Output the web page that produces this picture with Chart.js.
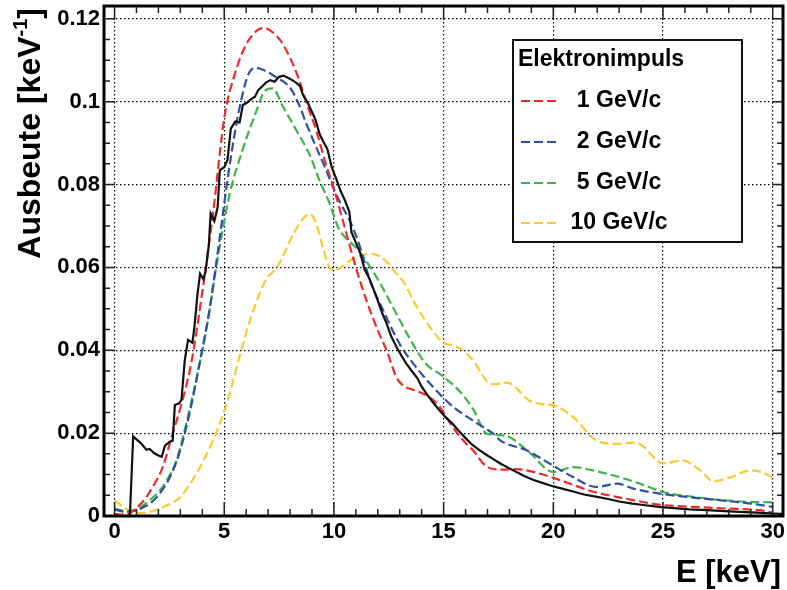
<!DOCTYPE html>
<html>
<head>
<meta charset="utf-8">
<script src="https://cdn.jsdelivr.net/npm/chart.js@4.4.0/dist/chart.umd.min.js"></script>
<style>
  html, body { margin: 0; padding: 0; background: #fff; }
</style>
</head>
<body>
<canvas id="c" width="787" height="590"></canvas>
<script>
// measured data (black, several overlapping runs in the original)
const eData = [0, 0.7, 0.85, 1.0, 1.2, 1.45, 1.6, 1.8, 2.0, 2.15, 2.3, 2.5, 2.65, 2.75, 2.95, 3.05, 3.2, 3.35, 3.55, 3.65, 3.78, 3.9, 4.05, 4.15, 4.3, 4.38, 4.55, 4.7, 4.8, 5.0, 5.15, 5.3, 5.5, 5.7, 5.85, 6.05, 6.2, 6.4, 6.55, 6.75, 6.9, 7.1, 7.3, 7.5, 7.7, 7.9, 8.1, 8.3, 8.45, 8.6, 8.8, 9.0, 9.15, 9.35, 9.5, 9.7, 9.9, 10.1, 10.3, 10.5, 10.7, 10.8, 11.0, 11.2, 11.4, 11.6, 11.75, 12.0, 12.2, 12.4, 12.6, 12.85, 13.1, 13.3, 13.55, 13.8, 14.0, 14.25, 14.5, 14.8, 15.1, 15.4, 15.7, 16.0, 16.3, 16.6, 17.0, 17.3, 17.6, 18.0, 18.3, 18.7, 19.1, 19.5, 19.9, 20.4, 20.9, 21.4, 22.0, 22.5, 23.0, 23.6, 24.2, 24.8, 25.5, 26.2, 27.0, 27.8, 28.5, 29.3, 30.0, 30.47];
const yData = [0, 0, 0.0192, 0.0185, 0.0176, 0.016, 0.0162, 0.0152, 0.0146, 0.0143, 0.017, 0.0179, 0.0182, 0.0268, 0.0272, 0.028, 0.0375, 0.0425, 0.0418, 0.046, 0.0535, 0.0585, 0.0572, 0.059, 0.0655, 0.073, 0.0712, 0.0745, 0.0835, 0.0842, 0.086, 0.0935, 0.0952, 0.095, 0.0992, 0.0998, 0.1005, 0.1012, 0.1028, 0.1038, 0.1046, 0.1052, 0.1048, 0.106, 0.1063, 0.1058, 0.1052, 0.1045, 0.1038, 0.1015, 0.0998, 0.0975, 0.0958, 0.0922, 0.0905, 0.0886, 0.0842, 0.0815, 0.0785, 0.0762, 0.0735, 0.0685, 0.066, 0.0635, 0.0595, 0.0575, 0.0555, 0.052, 0.049, 0.0465, 0.0435, 0.0408, 0.0385, 0.0368, 0.035, 0.0333, 0.0312, 0.0293, 0.0275, 0.0256, 0.0238, 0.0223, 0.0205, 0.0188, 0.0172, 0.016, 0.0146, 0.0136, 0.0126, 0.0115, 0.0107, 0.0096, 0.0087, 0.008, 0.0073, 0.0066, 0.0059, 0.0052, 0.0046, 0.0041, 0.0035, 0.003, 0.0026, 0.0022, 0.0019, 0.0016, 0.0014, 0.0012, 0.001, 0.0008, 0.0006, 0.0005];

// simulations
const e1 = [0, 0.5, 0.9, 1.4, 1.9, 2.2, 2.65, 3.0, 3.5, 4.0, 4.5, 5.0, 5.5, 6.0, 6.5, 6.8, 7.2, 7.6, 8.0, 8.4, 8.8, 9.2, 9.6, 10.0, 10.5, 11.0, 11.5, 12.0, 12.4, 12.85, 13.15, 13.7, 14.3, 14.8, 15.4, 16.0, 16.4, 16.8, 17.2, 17.8, 18.3, 19.4, 20.5, 21.8, 23.3, 24.9, 26.4, 27.9, 29.4, 30];
const y1 = [0.0005, 0.0003, 0.0015, 0.0042, 0.0085, 0.0118, 0.02, 0.026, 0.037, 0.054, 0.0735, 0.096, 0.107, 0.1138, 0.1172, 0.1178, 0.1168, 0.1145, 0.1106, 0.1055, 0.099, 0.093, 0.0855, 0.079, 0.0695, 0.06, 0.0518, 0.0448, 0.04, 0.0335, 0.0315, 0.0303, 0.0289, 0.0265, 0.0216, 0.0176, 0.0155, 0.0127, 0.0114, 0.0112, 0.0113, 0.0102, 0.0083, 0.0059, 0.0042, 0.0027, 0.0022, 0.0018, 0.0014, 0.0008];

const e2 = [0, 0.5, 0.9, 1.2, 1.6, 2.0, 2.6, 3.0, 3.45, 3.9, 4.35, 4.65, 4.9, 5.1, 5.5, 5.8, 6.1, 6.4, 6.85, 7.4, 8.0, 8.4, 8.75, 9.2, 9.6, 10.0, 10.4, 10.75, 11.2, 11.65, 12.25, 13.0, 13.75, 14.7, 15.45, 16.35, 17.3, 17.6, 18.8, 19.85, 20.9, 21.95, 22.9, 23.65, 24.85, 26.1, 27.6, 29.0, 30];
const y2 = [0.0016, 0.001, 0.0012, 0.0018, 0.003, 0.005, 0.0102, 0.016, 0.0255, 0.0375, 0.0504, 0.0616, 0.0713, 0.0793, 0.093, 0.101, 0.1066, 0.1082, 0.1075, 0.1058, 0.1034, 0.0994, 0.0946, 0.0889, 0.0841, 0.0788, 0.0745, 0.071, 0.0648, 0.0568, 0.0496, 0.0415, 0.0359, 0.0301, 0.0263, 0.023, 0.0197, 0.0182, 0.0158, 0.0126, 0.0094, 0.007, 0.0078, 0.0066, 0.0054, 0.0046, 0.0038, 0.003, 0.0022];

const e5 = [0, 0.5, 0.9, 1.2, 1.6, 2.07, 2.4, 2.83, 3.3, 3.75, 4.2, 4.65, 5.25, 5.87, 6.47, 6.85, 7.2, 7.7, 8.3, 8.9, 9.35, 9.8, 10.2, 10.6, 11.0, 11.95, 12.85, 13.6, 14.2, 14.9, 15.8, 16.4, 16.95, 17.8, 18.9, 20.0, 20.9, 21.8, 23.0, 23.95, 25.0, 26.4, 27.7, 29.0, 30];
const y5 = [0.0018, 0.0012, 0.0014, 0.0022, 0.0038, 0.0062, 0.0088, 0.0135, 0.023, 0.0335, 0.0455, 0.0605, 0.0777, 0.0889, 0.0978, 0.1026, 0.1032, 0.0986, 0.093, 0.0871, 0.0809, 0.0755, 0.0696, 0.0668, 0.0648, 0.0576, 0.0488, 0.0415, 0.0367, 0.034, 0.0297, 0.0253, 0.0199, 0.0194, 0.0154, 0.0106, 0.0118, 0.011, 0.0094, 0.0078, 0.0058, 0.0046, 0.0038, 0.0034, 0.0033];

const e10 = [0, 0.5, 1.0, 1.6, 2.4, 3.0, 3.45, 3.9, 4.35, 4.8, 5.25, 5.7, 6.3, 6.9, 7.4, 8.15, 8.6, 8.9, 9.2, 9.5, 9.75, 10.0, 10.4, 10.9, 11.7, 12.4, 12.8, 13.2, 13.7, 14.5, 15.0, 15.4, 15.8, 16.35, 16.95, 17.3, 17.9, 18.9, 19.5, 20.0, 20.9, 21.95, 22.9, 23.6, 24.0, 25.0, 25.9, 26.7, 27.3, 28.0, 29.0, 29.6, 30.0];
const y10 = [0.0038, 0.0018, 0.0007, 0.001, 0.0026, 0.0046, 0.0078, 0.0118, 0.0166, 0.0223, 0.0295, 0.0385, 0.0492, 0.057, 0.06, 0.068, 0.0718, 0.0729, 0.0705, 0.0648, 0.0605, 0.0592, 0.0603, 0.0622, 0.0633, 0.0614, 0.0588, 0.0563, 0.0512, 0.0447, 0.0418, 0.0412, 0.0403, 0.0375, 0.0327, 0.0318, 0.0322, 0.0279, 0.027, 0.0267, 0.0239, 0.0183, 0.0174, 0.0177, 0.0172, 0.0127, 0.0134, 0.011, 0.0084, 0.0092, 0.011, 0.0104, 0.0092];

const seriesLabels = ['1 GeV/c', '2 GeV/c', '5 GeV/c', '10 GeV/c'];
const seriesColors = ['#ee2b2b', '#2f4fa6', '#3bb54a', '#fdc92c'];

const xTicks = [0, 5, 10, 15, 20, 25, 30];
const yTicks = [0, 0.02, 0.04, 0.06, 0.08, 0.1, 0.12];
const yTickLabels = ['0', '0.02', '0.04', '0.06', '0.08', '0.1', '0.12'];

const legendTitle = 'Elektronimpuls';
const xTitle = 'E [keV]';
const yTitle = 'Ausbeute [keV';

function pts(xs, ys) {
  return xs.map((x, i) => ({ x: x, y: ys[i] }));
}

function simSet(i, xs, ys) {
  return {
    label: seriesLabels[i],
    data: pts(xs, ys),
    borderColor: seriesColors[i],
    borderWidth: 2.2,
    borderDash: [9, 4],
    pointRadius: 0,
    tension: 0.4,
    cubicInterpolationMode: 'monotone'
  };
}

const FONT = '"Liberation Sans", Arial, sans-serif';

const rootFrame = {
  id: 'rootFrame',
  afterDraw(chart) {
    const ctx = chart.ctx;
    const a = chart.chartArea;
    const xs = chart.scales.x, ys = chart.scales.y;
    ctx.save();

    // inner ticks
    ctx.strokeStyle = '#222';
    ctx.lineWidth = 1.5;
    ctx.beginPath();
    for (let i = 0; i <= 30; i++) {
      const px = xs.getPixelForValue(i);
      const len = i % 5 === 0 ? 14 : 7;
      ctx.moveTo(px, a.bottom); ctx.lineTo(px, a.bottom - len);
      ctx.moveTo(px, a.top); ctx.lineTo(px, a.top + len);
    }
    for (let j = 0; j <= 24; j++) {
      const py = ys.getPixelForValue(j * 0.005);
      const len = j % 4 === 0 ? 11 : 6;
      ctx.moveTo(a.left, py); ctx.lineTo(a.left + len, py);
      ctx.moveTo(a.right, py); ctx.lineTo(a.right - len, py);
    }
    ctx.stroke();

    // frame
    ctx.strokeStyle = '#000';
    ctx.lineWidth = 3;
    ctx.strokeRect(a.left, a.top, a.right - a.left, a.bottom - a.top);

    // axis titles
    ctx.fillStyle = '#000';
    ctx.textBaseline = 'alphabetic';
    ctx.font = 'bold 31px ' + FONT;
    ctx.textAlign = 'right';
    ctx.fillText(xTitle, 781, 582);

    ctx.save();
    ctx.translate(40, 8);
    ctx.rotate(-Math.PI / 2);
    ctx.font = 'bold 32px ' + FONT;
    const wClose = ctx.measureText(']').width;
    ctx.fillText(']', 0, 0);
    ctx.font = 'bold 20px ' + FONT;
    const wSup = ctx.measureText('-1').width;
    ctx.fillText('-1', -wClose, -13);
    ctx.font = 'bold 32px ' + FONT;
    ctx.fillText(yTitle, -wClose - wSup, 0);
    ctx.restore();

    // legend
    ctx.fillStyle = '#fff';
    ctx.fillRect(513, 40, 229, 202);
    ctx.strokeStyle = '#111';
    ctx.lineWidth = 2;
    ctx.strokeRect(513, 40, 229, 202);
    ctx.fillStyle = '#000';
    ctx.font = 'bold 23px ' + FONT;
    ctx.textAlign = 'left';
    ctx.textBaseline = 'middle';
    ctx.fillText(legendTitle, 518, 60);
    const rows = [101, 142, 183, 223];
    chart.data.datasets.slice(1).forEach((ds, k) => {
      const y = rows[k];
      ctx.strokeStyle = ds.borderColor;
      ctx.lineWidth = 2.2;
      ctx.setLineDash([9, 4]);
      ctx.beginPath();
      ctx.moveTo(521, y); ctx.lineTo(559, y);
      ctx.stroke();
      ctx.setLineDash([]);
      ctx.textAlign = 'center';
      ctx.fillText(ds.label, 619, y);
    });
    ctx.restore();
  }
};

new Chart(document.getElementById('c'), {
  type: 'line',
  data: {
    datasets: [
      {
        label: 'Messung',
        data: pts(eData, yData),
        borderColor: '#111',
        borderWidth: 2.2,
        pointRadius: 0,
        tension: 0
      },
      simSet(0, e1, y1),
      simSet(1, e2, y2),
      simSet(2, e5, y5),
      simSet(3, e10, y10)
    ]
  },
  options: {
    responsive: false,
    animation: false,
    layout: { padding: { top: 6, right: 4, left: 0, bottom: 0 } },
    plugins: { legend: { display: false }, tooltip: { enabled: false } },
    scales: {
      x: {
        type: 'linear',
        min: -0.48,
        max: 30.47,
        afterBuildTicks(s) { s.ticks = xTicks.map(v => ({ value: v })); },
        afterFit(s) { s.height = 74; s.paddingLeft = 0; s.paddingRight = 0; },
        ticks: {
          color: '#000',
          padding: 3,
          maxRotation: 0,
          font: { family: FONT, weight: 'bold', size: 22 },
          callback: (v) => String(v)
        },
        grid: { color: '#000', lineWidth: 1.2, drawTicks: false },
        border: { display: false, dash: [1.5, 2.5] }
      },
      y: {
        type: 'linear',
        min: 0,
        max: 0.1231,
        afterBuildTicks(s) { s.ticks = yTicks.map(v => ({ value: v })); },
        afterFit(s) { s.width = 104; s.paddingTop = 0; s.paddingBottom = 0; },
        ticks: {
          color: '#000',
          padding: 4,
          font: { family: FONT, weight: 'bold', size: 22 },
          callback: (v) => {
            const k = yTicks.findIndex(t => Math.abs(t - v) < 1e-9);
            return k >= 0 ? yTickLabels[k] : '';
          }
        },
        grid: { color: '#000', lineWidth: 1.2, drawTicks: false },
        border: { display: false, dash: [1.5, 2.5] }
      }
    }
  },
  plugins: [rootFrame]
});
</script>
</body>
</html>
